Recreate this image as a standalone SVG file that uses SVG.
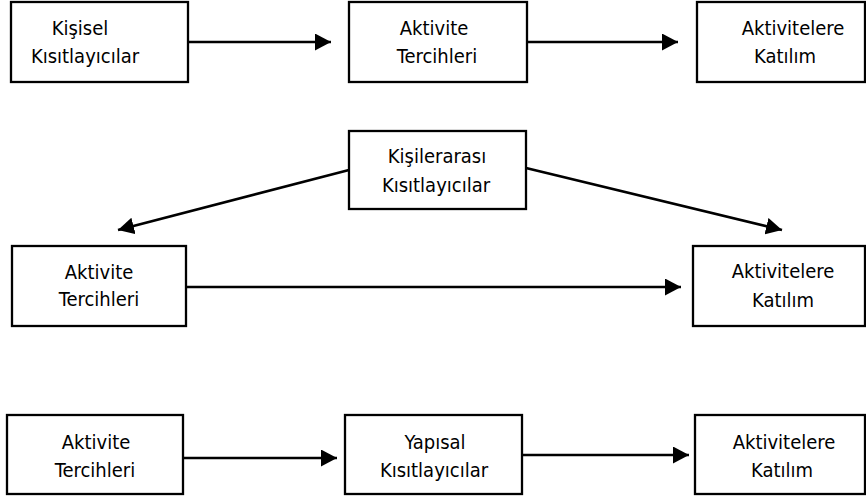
<svg xmlns="http://www.w3.org/2000/svg" width="866" height="500" viewBox="0 0 866 500">
<style>
.box{fill:#fff;stroke:#000;stroke-width:2.3}
.t{font-family:"DejaVu Sans Condensed","DejaVu Sans",sans-serif;font-stretch:condensed;font-size:20px;fill:#000;text-anchor:middle}
.c{stroke:#000;stroke-width:2.7;fill:none;marker-end:url(#ah)}
</style>
<defs>
<marker id="ah" markerUnits="userSpaceOnUse" markerWidth="16" markerHeight="17" refX="16" refY="8.5" orient="auto">
<path d="M0,0 L16,8.5 L0,17 z" fill="#000"/>
</marker>
</defs>
<rect width="866" height="500" fill="#fff"/>
<g id="connectors">
<line class="c" x1="188" y1="42" x2="331" y2="42"/>
<line class="c" x1="527" y1="42" x2="678" y2="42"/>
<line class="c" x1="349" y1="170" x2="118" y2="230"/>
<line class="c" x1="526" y1="168" x2="782" y2="230"/>
<line class="c" x1="186" y1="287" x2="681" y2="287"/>
<line class="c" x1="183" y1="458" x2="337" y2="458"/>
<line class="c" x1="522" y1="455" x2="689" y2="455"/>
</g>
<g id="n1"><rect class="box" x="11" y="2" width="177" height="80"/><text class="t" x="80" y="35">Kişisel</text><text class="t" x="85" y="63">Kısıtlayıcılar</text></g>
<g id="n2"><rect class="box" x="349" y="2" width="178" height="80"/><text class="t" x="434" y="35">Aktivite</text><text class="t" x="437" y="63">Tercihleri</text></g>
<g id="n3"><rect class="box" x="697" y="2" width="168" height="80"/><text class="t" x="793" y="35">Aktivitelere</text><text class="t" x="785" y="63">Katılım</text></g>
<g id="n4"><rect class="box" x="349" y="131" width="177" height="78"/><text class="t" x="437" y="163">Kişilerarası</text><text class="t" x="436" y="192">Kısıtlayıcılar</text></g>
<g id="n5"><rect class="box" x="12" y="246" width="174" height="80"/><text class="t" x="99" y="279">Aktivite</text><text class="t" x="99" y="306">Tercihleri</text></g>
<g id="n6"><rect class="box" x="693" y="246" width="172" height="80"/><text class="t" x="783" y="278">Aktivitelere</text><text class="t" x="783" y="307">Katılım</text></g>
<g id="n7"><rect class="box" x="7" y="415" width="176" height="79"/><text class="t" x="96" y="449">Aktivite</text><text class="t" x="95" y="477">Tercihleri</text></g>
<g id="n8"><rect class="box" x="345" y="415" width="177" height="79"/><text class="t" x="435" y="449">Yapısal</text><text class="t" x="434" y="477">Kısıtlayıcılar</text></g>
<g id="n9"><rect class="box" x="695" y="415" width="170" height="79"/><text class="t" x="784" y="449">Aktivitelere</text><text class="t" x="782" y="477">Katılım</text></g>
</svg>
